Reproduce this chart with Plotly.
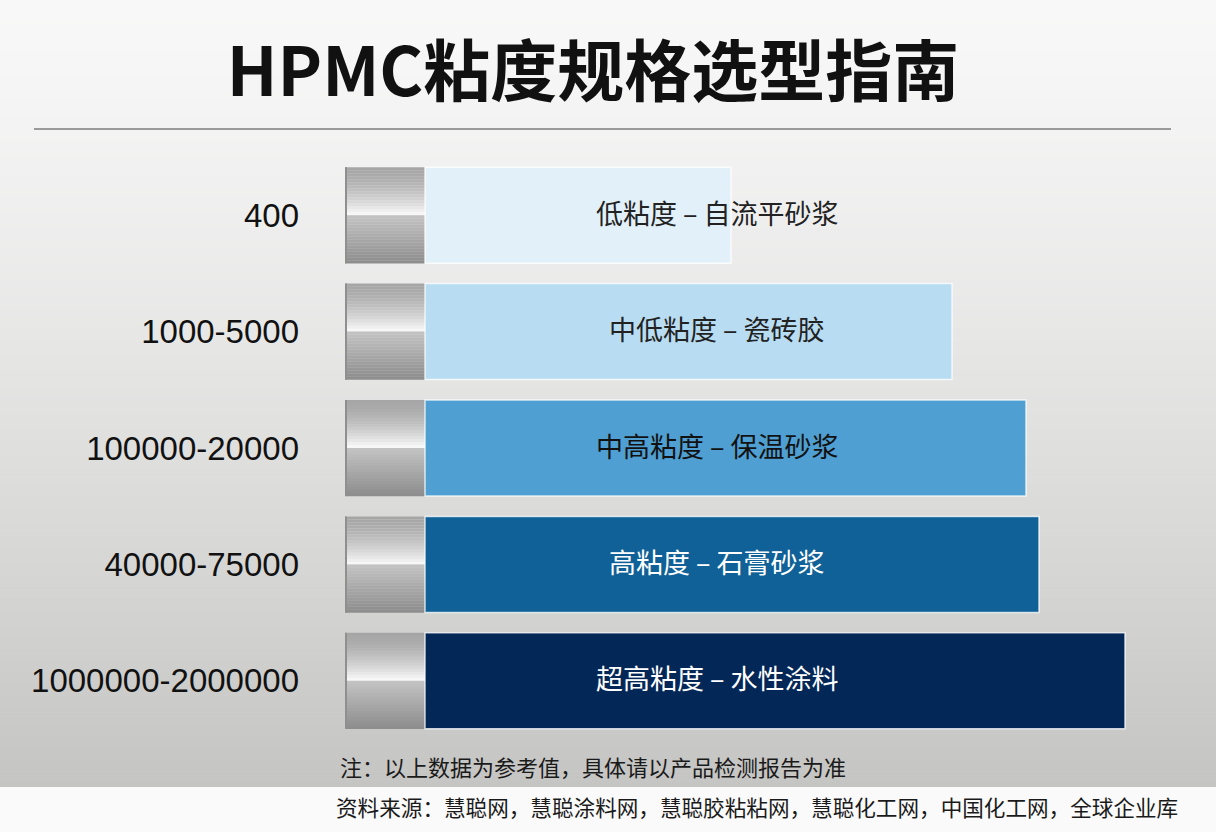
import plotly.graph_objects as go

# viscosity grades (mPa·s) and the usage they fit
grades = ["400", "1000-5000", "100000-20000", "40000-75000", "1000000-2000000"]
usage = ["低粘度 – 自流平砂浆", "中低粘度 – 瓷砖胶", "中高粘度 – 保温砂浆",
         "高粘度 – 石膏砂浆", "超高粘度 – 水性涂料"]
# relative bar length (illustrative scale)
bar_len = [306, 527, 601, 614, 700]
base_len = [80, 80, 80, 80, 80]

bar_colors = ["#e1f0f9", "#b8ddf3", "#4f9fd2", "#0f6197", "#032757"]
text_colors = ["#222222", "#222222", "#111111", "#ffffff", "#ffffff"]

W, H = 1216, 832
ML, MR, MT, MB = 345, 46, 157, 93
PW, PH = W - ML - MR, H - MT - MB
TEXT_X = 372
BAR_W = 0.825
pos = list(range(len(grades)))


def xp(px):
    return (px - ML) / PW


def yp(py):
    return (H - MB - py) / PH


def lerp(c1, c2, t):
    a = [int(c1[i:i + 2], 16) for i in (1, 3, 5)]
    b = [int(c2[i:i + 2], 16) for i in (1, 3, 5)]
    return "rgb(%d,%d,%d)" % tuple(round(a[k] + (b[k] - a[k]) * t) for k in range(3))


fig = go.Figure()

# metallic cap at the start of each bar, built from thin horizontal slices
n = 32
for i in range(n):
    t = (i + 0.5) / n
    if t < 0.5:
        col = lerp("#a6a6a6", "#fbfbfb", (t / 0.5) ** 1.6)
    else:
        col = lerp("#c4c4c4", "#8c8c8c", (t - 0.5) / 0.5)
    fig.add_trace(go.Bar(
        y=pos, x=base_len, orientation="h",
        width=BAR_W / n + 0.002, offset=-BAR_W / 2 + i * BAR_W / n,
        marker=dict(color=col, line=dict(width=0)),
        hoverinfo="skip", showlegend=False))

fig.add_trace(go.Bar(
    y=pos, x=[2] * len(grades), orientation="h", width=BAR_W,
    marker=dict(color="#8f8f8f", line=dict(width=0)),
    hoverinfo="skip", showlegend=False))

fig.add_trace(go.Bar(
    y=pos, x=bar_len, base=base_len, orientation="h", width=BAR_W,
    marker=dict(color=bar_colors, line=dict(color="rgba(255,255,255,0.75)", width=1.5)),
    hoverinfo="skip", showlegend=False))

for p, u, c in zip(pos, usage, text_colors):
    fig.add_annotation(x=TEXT_X, y=p, xref="x", yref="y", yshift=3, text=u, showarrow=False,
                       font=dict(family="Noto Sans CJK SC", size=27, color=c))

# background: soft grey gradient, white strip at the bottom
shapes = []
steps = 200
top, bot = 0, 787
for i in range(steps):
    y0 = top + (bot - top) * i / steps
    y1 = top + (bot - top) * (i + 1) / steps + 0.6
    shapes.append(dict(type="rect", xref="paper", yref="paper", layer="below",
                       x0=xp(-2), x1=xp(W + 2), y0=yp(y1), y1=yp(y0),
                       fillcolor=lerp("#f8f8f8", "#c4c4c2", ((i + 0.5) / steps) ** 1.3),
                       line=dict(width=0)))
shapes.append(dict(type="rect", xref="paper", yref="paper", layer="below",
                   x0=xp(-2), x1=xp(W + 2), y0=yp(H + 2), y1=yp(bot),
                   fillcolor="#fafafa", line=dict(width=0)))
shapes.append(dict(type="line", xref="paper", yref="paper",
                   x0=xp(34), x1=xp(1171), y0=yp(129), y1=yp(129),
                   line=dict(color="#9a9a9a", width=2)))

fig.add_annotation(xref="paper", yref="paper", x=xp(338), y=yp(766), xanchor="left",
                   yanchor="middle", showarrow=False,
                   text="注：以上数据为参考值，具体请以产品检测报告为准",
                   font=dict(family="Noto Sans CJK SC", size=22, color="#1a1a1a"))
fig.add_annotation(xref="paper", yref="paper", x=xp(334), y=yp(806), xanchor="left",
                   yanchor="middle", showarrow=False,
                   text="资料来源：慧聪网，慧聪涂料网，慧聪胶粘粘网，慧聪化工网，中国化工网，全球企业库",
                   font=dict(family="Noto Sans CJK SC", size=21.6, color="#1a1a1a"))

fig.update_layout(
    width=W, height=H,
    margin=dict(l=ML, r=MR, t=MT, b=MB),
    barmode="overlay",
    paper_bgcolor="#f2f2f2", plot_bgcolor="rgba(0,0,0,0)",
    title=dict(text="<b>HPMC粘度规格选型指南</b>", xref="container", yref="container",
               x=593 / W, y=1 - 73 / H, xanchor="center", yanchor="middle",
               font=dict(family="Noto Sans CJK SC", size=67, color="#111111")),
    shapes=shapes,
    xaxis=dict(range=[0, PW], visible=False, fixedrange=True),
    yaxis=dict(range=[len(grades) - 0.5, -0.5], tickvals=pos, ticktext=grades,
               showgrid=False, zeroline=False, showline=False, ticks="",
               ticklabelstandoff=45, fixedrange=True,
               tickfont=dict(family="Liberation Sans", size=33, color="#111111")),
)

fig.write_html("out.html", config=dict(displayModeBar=False),
               post_script="document.body.style.margin='0';")
